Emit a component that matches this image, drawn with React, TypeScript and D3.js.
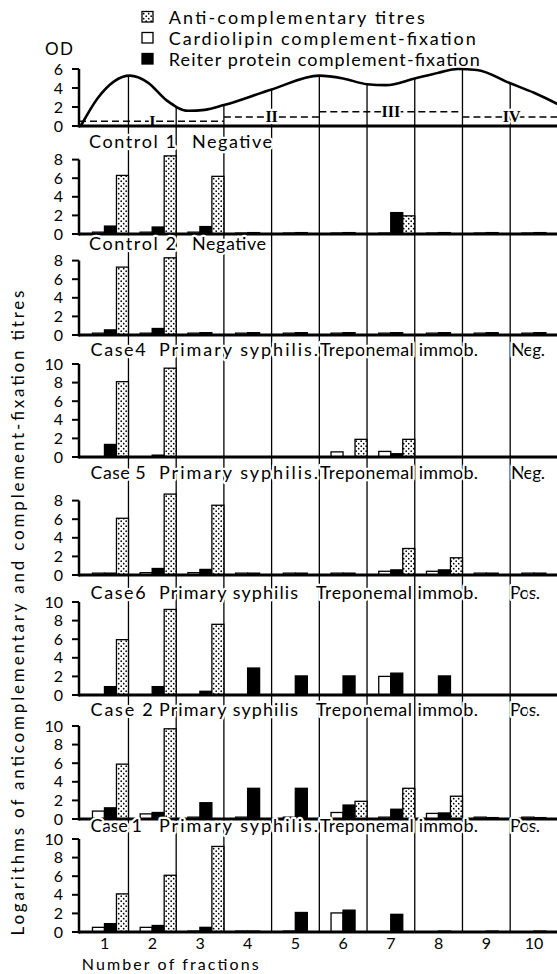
import React from "react";
import * as d3 from "d3";

// x axis: fraction numbers
const fractions = ["1", "2", "3", "4", "5", "6", "7", "8", "9", "10"];

// optical density profile, [fraction, OD]
const odPoints: [number, number][] = [
  [0, 0], [0.35, 2.9], [0.7, 4.7], [1.03, 5.3], [1.4, 4.6], [1.8, 2.7],
  [2.25, 1.6], [2.6, 1.7], [3, 2.2], [4, 3.85], [5, 5.3], [5.5, 5.0],
  [6, 4.4], [6.4, 4.3], [7, 5.0], [7.5, 5.6], [7.9, 6.0], [8.3, 5.9],
  [9, 4.5], [9.5, 3.5], [10, 2.3],
];
const odTicks = [0, 2, 4, 6];

// fraction groups I-IV marked with dashes under the curve
const groupNames = ["I", "II", "III", "IV"];
const groupFrom = [0, 3, 5, 8];
const groupTo = [3, 5, 8, 10];
const groupOD = [0.5, 0.95, 1.5, 0.95];

const legendLabels = [
  "Anti-complementary titres",
  "Cardiolipin complement-fixation",
  "Reiter protein complement-fixation",
];

const panelNames = ["Control 1", "Control 2", "Case4", "Case 5", "Case6", "Case 2", "Case 1"];
const panelDiagnosis = ["", "", "Primary syphilis.", "Primary syphilis.", "Primary syphilis", "Primary syphilis", "Primary syphilis."];
const panelTest = ["", "", "Treponemal immob.", "Treponemal immob.", "Treponemal immob.", "Treponemal immob.", "Treponemal immob."];
const panelResult = ["Negative", "Negative", "Neg.", "Neg.", "Pos.", "Pos.", "Pos."];
const panelMax = [8, 8, 10, 8, 10, 10, 10];

// log titres per panel, fractions 1..10
const cardiolipinTitres = [
  [0.2, 0.2, 0.2, 0.1, 0.1, 0.1, 0.1, 0.1, 0.1, 0.1],
  [0.2, 0.2, 0.2, 0.2, 0.2, 0.2, 0.2, 0.2, 0.2, 0.2],
  [0, 0, 0, 0, 0, 0.55, 0.6, 0, 0, 0],
  [0.2, 0.25, 0.25, 0.2, 0.2, 0.2, 0.4, 0.4, 0.2, 0.2],
  [0, 0, 0, 0, 0, 0, 2.0, 0, 0, 0],
  [0.85, 0.55, 0.2, 0.2, 0.2, 0.7, 0.2, 0.6, 0.2, 0.2],
  [0.5, 0.5, 0.1, 0.1, 0.1, 2.05, 0, 0, 0, 0],
];
const reiterTitres = [
  [0.85, 0.75, 0.8, 0.15, 0.15, 0.15, 2.3, 0.15, 0.15, 0.15],
  [0.55, 0.7, 0.25, 0.25, 0.25, 0.25, 0.25, 0.25, 0.25, 0.25],
  [1.35, 0.2, 0, 0, 0, 0, 0.35, 0, 0, 0],
  [0.2, 0.7, 0.6, 0.2, 0.2, 0.2, 0.55, 0.55, 0.2, 0.2],
  [0.9, 0.9, 0.4, 2.9, 2.05, 2.05, 2.35, 2.05, 0, 0],
  [1.2, 0.7, 1.75, 3.3, 3.3, 1.5, 1.05, 0.65, 0.15, 0.15],
  [0.9, 0.7, 0.5, 0.1, 2.1, 2.35, 1.9, 0.1, 0.1, 0.1],
];
const antiComplementaryTitres = [
  [6.3, 8.4, 6.2, 0, 0, 0, 1.95, 0, 0, 0],
  [7.3, 8.3, 0, 0, 0, 0, 0, 0, 0, 0],
  [8.1, 9.55, 0, 0, 0, 1.9, 1.9, 0, 0, 0],
  [6.1, 8.7, 7.5, 0, 0, 0, 2.85, 1.85, 0, 0],
  [5.95, 9.2, 7.6, 0, 0, 0, 0, 0, 0, 0],
  [5.9, 9.7, 0, 0, 0, 1.9, 3.3, 2.45, 0, 0],
  [4.1, 6.1, 9.2, 0, 0, 0, 0, 0, 0, 0],
];

// layout
const W = 557;
const H = 974;
const axisX = 79;
const unit = 9.3;
const odBase = 126;
const panelBase = [234, 335, 457, 575, 695, 819, 932];
const titleY = [148, 250, 356, 479, 599, 716, 832];
const nameEnd = [176, 176, 145.6, 145.6, 145.6, 152.8, 142];
const font = "Lato, 'DejaVu Sans', sans-serif";

const x = d3.scaleLinear().domain([0, 10]).range([80.75, 557.9]);
const yOD = d3.scaleLinear().domain([0, 6]).range([odBase, odBase - 6 * 9.5]);
const bw = 12;

function titleSegments(i: number): [string, number, number][] {
  if (i < 2) {
    return [
      [panelNames[i], 89, nameEnd[i]],
      [panelResult[i], 192, i === 0 ? 272 : 266],
    ];
  }
  const dot = panelDiagnosis[i].endsWith(".");
  const neg = panelResult[i] === "Neg.";
  return [
    [panelNames[i], 90.6, nameEnd[i]],
    [panelDiagnosis[i], 159, dot ? 318 : 298],
    [panelTest[i], dot ? 320 : 316, 478],
    [panelResult[i], neg ? 511 : 510, neg ? 545 : 540],
  ];
}

const halo = { stroke: "#fff", strokeWidth: 4.5, paintOrder: "stroke" as const, strokeLinejoin: "round" as const };

function Panel({ i }: { i: number }) {
  const base = panelBase[i];
  const max = panelMax[i];
  const y = d3.scaleLinear().domain([0, max]).range([base, base - max * unit]);
  const ticks = d3.range(0, max + 1, 2);
  const series = [
    { vals: cardiolipinTitres[i], off: 3, fill: "#fff" },
    { vals: reiterTitres[i], off: 2, fill: "#000" },
    { vals: antiComplementaryTitres[i], off: 1, fill: "url(#dots)" },
  ];
  return (
    <g>
      {series.map((s, si) =>
        s.vals.map((v, k) =>
          v > 0 ? (
            <rect
              key={`${si}-${k}`}
              x={x(k + 1) - s.off * bw}
              y={y(v)}
              width={bw}
              height={base - y(v)}
              fill={s.fill}
              stroke="#000"
              strokeWidth={1.3}
            />
          ) : null
        )
      )}
      <line x1={axisX} x2={W} y1={base} y2={base} stroke="#000" strokeWidth={3} />
      <line x1={axisX} x2={axisX} y1={base + 1.5} y2={y(max)} stroke="#000" strokeWidth={2.5} />
      {ticks.map((t) => (
        <g key={t}>
          <line x1={axisX - 7} x2={axisX} y1={y(t)} y2={y(t)} stroke="#000" strokeWidth={2} />
          <text x={63} y={y(t) + 5.5} textAnchor="end" fontSize={16} fontFamily={font}>
            {t}
          </text>
        </g>
      ))}
      {titleSegments(i).map(([txt, x0, x1], j) => (
        <text
          key={j}
          x={x0}
          y={titleY[i]}
          fontSize={18}
          fontFamily={font}
          textLength={x1 - x0}
          lengthAdjust="spacing"
          style={halo}
        >
          {txt}
        </text>
      ))}
    </g>
  );
}

export default function App() {
  const line = d3.line<[number, number]>().x((d) => x(d[0])).y((d) => yOD(d[1])).curve(d3.curveMonotoneX);
  const area = d3
    .area<[number, number]>()
    .x((d) => x(d[0]))
    .y0(odBase)
    .y1((d) => yOD(d[1]))
    .curve(d3.curveMonotoneX);
  const lastBase = panelBase[panelBase.length - 1];

  return (
    <svg
      width={W}
      height={H}
      viewBox={`0 0 ${W} ${H}`}
      style={{ position: "absolute", left: 0, top: 0, background: "#fff", display: "block" }}
    >
      <defs>
        <pattern id="dots" width={5} height={5} patternUnits="userSpaceOnUse">
          <rect width={5} height={5} fill="#fff" />
          <circle cx={1.2} cy={1.2} r={0.85} fill="#000" />
          <circle cx={3.7} cy={3.7} r={0.85} fill="#000" />
        </pattern>
        <clipPath id="underCurve">
          <path d={area(odPoints) || ""} />
        </clipPath>
      </defs>
      <rect width={W} height={H} fill="#fff" />

      {/* legend */}
      {legendLabels.map((lab, i) => (
        <g key={lab}>
          <rect
            x={142}
            y={11.5 + i * 21}
            width={11}
            height={10.5}
            fill={i === 0 ? "url(#dots)" : i === 1 ? "#fff" : "#000"}
            stroke="#000"
            strokeWidth={1.3}
          />
          <text
            x={168.7}
            y={23.5 + i * 21}
            fontSize={18}
            fontFamily={font}
            textLength={i === 0 ? 256 : i === 1 ? 307 : 311}
            lengthAdjust="spacing"
          >
            {lab}
          </text>
        </g>
      ))}

      {/* OD panel */}
      <g clipPath="url(#underCurve)">
        {d3.range(1, 10).map((k) => (
          <line key={k} x1={x(k)} x2={x(k)} y1={odBase} y2={40} stroke="#000" strokeWidth={1.3} />
        ))}
      </g>
      {groupNames.map((g, i) => (
        <line
          key={g}
          x1={i === 0 ? axisX : x(groupFrom[i])}
          x2={x(groupTo[i])}
          y1={yOD(groupOD[i])}
          y2={yOD(groupOD[i])}
          stroke="#000"
          strokeWidth={1.5}
          strokeDasharray="7 4"
        />
      ))}
      {groupNames.map((g, i) => (
        <text
          key={g}
          x={x((groupFrom[i] + groupTo[i]) / 2 + (i === 3 ? 0.03 : 0))}
          y={yOD(groupOD[i]) + 5.5}
          textAnchor="middle"
          fontSize={16}
          fontWeight="bold"
          fontFamily="'Liberation Serif', 'DejaVu Serif', serif"
          style={halo}
        >
          {g}
        </text>
      ))}
      <path d={line(odPoints) || ""} fill="none" stroke="#000" strokeWidth={2.6} />
      <line x1={axisX} x2={W} y1={odBase} y2={odBase} stroke="#000" strokeWidth={3} />
      <line x1={axisX} x2={axisX} y1={odBase + 1.5} y2={yOD(6)} stroke="#000" strokeWidth={2.5} />
      {odTicks.map((t) => (
        <g key={t}>
          <line x1={axisX - 7} x2={axisX} y1={yOD(t)} y2={yOD(t)} stroke="#000" strokeWidth={2} />
          <text x={63} y={yOD(t) + 5.5} textAnchor="end" fontSize={16} fontFamily={font}>
            {t}
          </text>
        </g>
      ))}
      <text x={45} y={55} fontSize={17} fontFamily={font} textLength={28} lengthAdjust="spacing">
        OD
      </text>

      {/* fraction boundaries through all panels */}
      {d3.range(1, 10).map((k) => (
        <line key={k} x1={x(k)} x2={x(k)} y1={odBase} y2={lastBase} stroke="#000" strokeWidth={1.3} />
      ))}

      {panelNames.map((_, i) => (
        <Panel key={i} i={i} />
      ))}

      {/* x axis labels */}
      {fractions.map((f, k) => (
        <text key={f} x={x(k + 0.5)} y={949} textAnchor="middle" fontSize={16} fontFamily={font}>
          {f}
        </text>
      ))}
      <text x={81.7} y={970} fontSize={16} fontFamily={font} textLength={177} lengthAdjust="spacing">
        Number of fractions
      </text>

      {/* y axis title */}
      <text
        transform="translate(24,613) rotate(-90)"
        textAnchor="middle"
        fontSize={17}
        fontFamily={font}
        textLength={645}
        lengthAdjust="spacing"
      >
        Logarithms of anticomplementary and complement-fixation titres
      </text>
    </svg>
  );
}
